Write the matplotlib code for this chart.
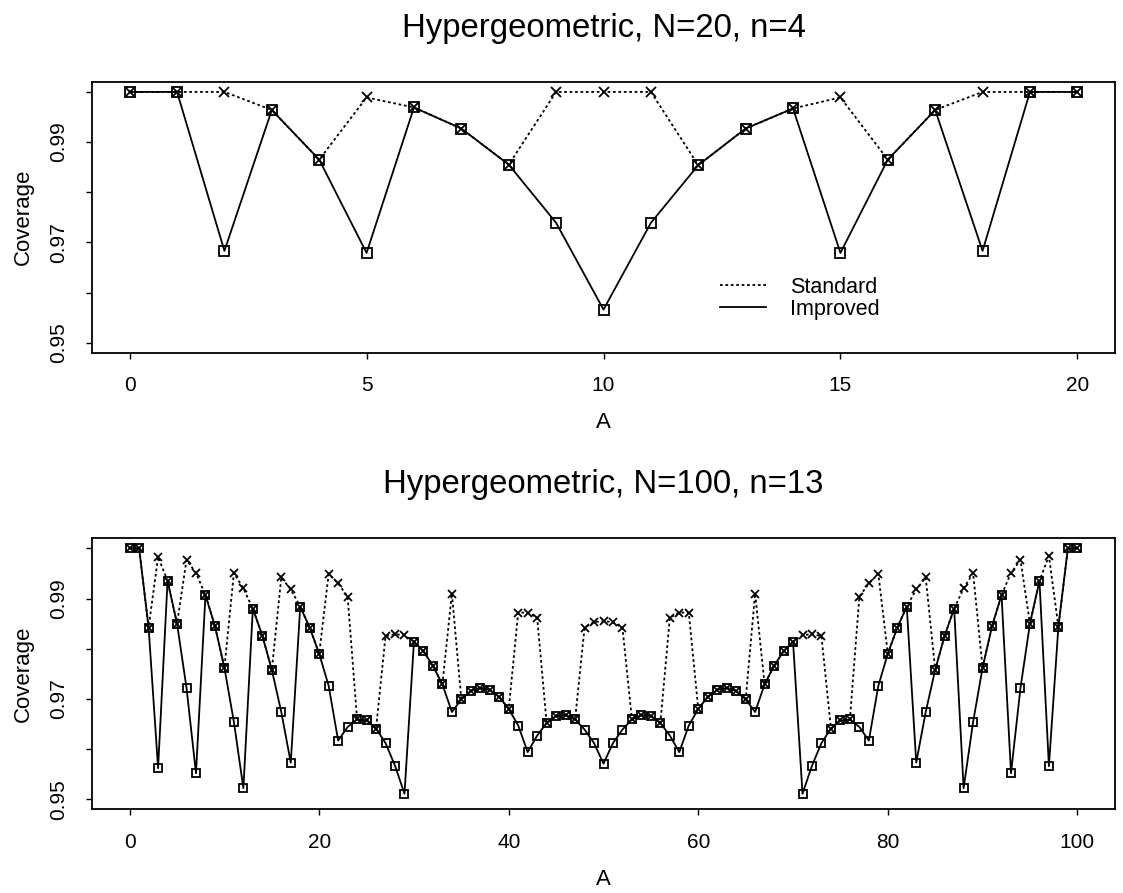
import numpy as np
import matplotlib
matplotlib.use("Agg")
import matplotlib.pyplot as plt

plt.rcParams['font.family'] = ['Liberation Sans', 'DejaVu Sans']

# N=20, n=4 : coverage for A = 0..20
a_small = np.arange(0, 21)
std_small = [1.0, 1.0, 1.0, 0.9964, 0.9865, 0.9989, 0.9969, 0.9927, 0.9855, 1.0, 1.0,
             1.0, 0.9854, 0.9927, 0.9967, 0.9989, 0.9865, 0.9964, 1.0, 1.0, 1.0]
imp_small = [1.0, 1.0, 0.9683, 0.9964, 0.9865, 0.9679, 0.9969, 0.9927, 0.9855, 0.9739, 0.9566,
             0.9739, 0.9854, 0.9927, 0.9967, 0.9679, 0.9865, 0.9964, 0.9683, 1.0, 1.0]

# N=100, n=13 : coverage for A = 0..100
a_big = np.arange(0, 101)
std_big = [1.0, 1.0, 0.9842, 0.9983, 0.9935, 0.9850, 0.9977, 0.9951, 0.9907, 0.9845,
           0.9762, 0.9951, 0.9920, 0.9880, 0.9826, 0.9758, 0.9942, 0.9918, 0.9884, 0.9842,
           0.9790, 0.9949, 0.9930, 0.9904, 0.9659, 0.9657, 0.9641, 0.9825, 0.9829, 0.9827,
           0.9814, 0.9795, 0.9766, 0.9729, 0.9910, 0.9699, 0.9716, 0.9722, 0.9718, 0.9704,
           0.9680, 0.9872, 0.9872, 0.9862, 0.9652, 0.9666, 0.9668, 0.9659, 0.9842, 0.9853,
           0.9855,
           0.9853, 0.9842, 0.9659, 0.9668, 0.9666, 0.9652, 0.9862, 0.9872, 0.9872, 0.9680,
           0.9704, 0.9718, 0.9722, 0.9716, 0.9699, 0.9910, 0.9729, 0.9766, 0.9795, 0.9814,
           0.9827, 0.9829, 0.9825, 0.9641, 0.9657, 0.9659, 0.9904, 0.9930, 0.9949, 0.9790,
           0.9842, 0.9884, 0.9918, 0.9942, 0.9758, 0.9826, 0.9880, 0.9920, 0.9951, 0.9762,
           0.9845, 0.9907, 0.9951, 0.9977, 0.9850, 0.9935, 0.9985, 0.9844, 1.0, 1.0]
imp_big = [1.0, 1.0, 0.9842, 0.9562, 0.9935, 0.9850, 0.9722, 0.9552, 0.9907, 0.9845,
           0.9762, 0.9654, 0.9522, 0.9880, 0.9826, 0.9758, 0.9674, 0.9573, 0.9884, 0.9842,
           0.9790, 0.9726, 0.9617, 0.9644, 0.9659, 0.9657, 0.9641, 0.9612, 0.9567, 0.9511,
           0.9814, 0.9795, 0.9766, 0.9729, 0.9674, 0.9699, 0.9716, 0.9722, 0.9718, 0.9704,
           0.9680, 0.9647, 0.9594, 0.9627, 0.9652, 0.9666, 0.9668, 0.9659, 0.9639, 0.9612,
           0.9571,
           0.9612, 0.9639, 0.9659, 0.9668, 0.9666, 0.9652, 0.9627, 0.9594, 0.9647, 0.9680,
           0.9704, 0.9718, 0.9722, 0.9716, 0.9699, 0.9674, 0.9729, 0.9766, 0.9795, 0.9814,
           0.9511, 0.9567, 0.9612, 0.9641, 0.9657, 0.9659, 0.9644, 0.9617, 0.9726, 0.9790,
           0.9842, 0.9884, 0.9573, 0.9674, 0.9758, 0.9826, 0.9880, 0.9522, 0.9654, 0.9762,
           0.9845, 0.9907, 0.9552, 0.9722, 0.9850, 0.9935, 0.9566, 0.9844, 1.0, 1.0]

panels = [
    (a_small, std_small, imp_small, "Hypergeometric, N=20, n=4", np.arange(0, 21, 5), 7.5),
    (a_big, std_big, imp_big, "Hypergeometric, N=100, n=13", np.arange(0, 101, 20), 6.0),
]

fig = plt.figure(figsize=(11.23, 8.93), dpi=100)
ax_top = fig.add_axes([0.0817, 0.605, 0.9114, 0.3033])
ax_bot = fig.add_axes([0.0817, 0.0937, 0.9114, 0.3035])

for ax, (a, std, imp, title, xt, ms) in zip([ax_top, ax_bot], panels):
    ax.plot(a, std, color='black', lw=1.3, linestyle=(0, (1.5, 1.5)),
            marker='x', ms=ms, mew=1.3, label='Standard')
    ax.plot(a, imp, color='black', lw=1.3, linestyle='-',
            marker='s', ms=ms, mfc='none', mew=1.3, label='Improved')
    # 4% padding on each side, as in R's default axis style
    span = a[-1] - a[0]
    ax.set_xlim(a[0] - 0.04 * span, a[-1] + 0.04 * span)
    ax.set_ylim(0.948, 1.002)
    ax.set_xticks(xt)
    ax.set_yticks([0.95, 0.96, 0.97, 0.98, 0.99, 1.00])
    ax.set_yticklabels(['0.95', '', '0.97', '', '0.99', ''])
    ax.tick_params(direction='out', length=4, width=1, labelsize=15, pad=13)
    for lab in ax.get_yticklabels():
        lab.set_rotation(90)
        lab.set_va('center')
    ax.set_xlabel('A', fontsize=16, labelpad=12)
    ax.set_ylabel('Coverage', fontsize=16, labelpad=11)
    ax.set_title(title, fontsize=23.7, pad=32.6)
    for sp in ax.spines.values():
        sp.set_linewidth(1.3)

ax_top.legend(loc='center left', bbox_to_anchor=(0.614, 0.201), frameon=False,
              fontsize=15.5, handlelength=2.15, handletextpad=1.1, labelspacing=0.05,
              borderpad=0, borderaxespad=0, markerscale=0)

fig.savefig('out.png', dpi=100)
